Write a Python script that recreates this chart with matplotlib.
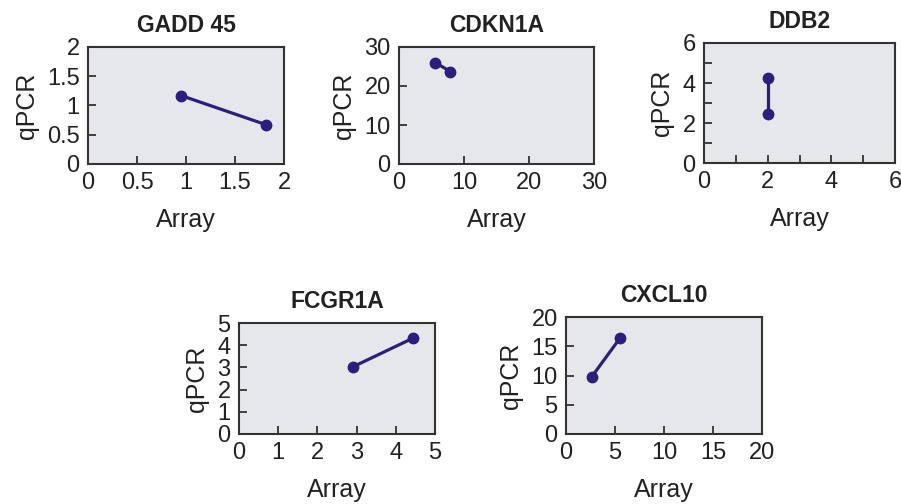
import matplotlib.pyplot as plt
from matplotlib.ticker import MultipleLocator

plt.rcParams["font.family"] = ["Liberation Sans", "DejaVu Sans"]

W, H = 901, 504

# panel data (array value, qPCR value)
genes = ["GADD 45", "CDKN1A", "DDB2", "FCGR1A", "CXCL10"]
gadd45_x = [0.95, 1.82]
gadd45_y = [1.17, 0.67]
cdkn1a_x = [5.6, 7.9]
cdkn1a_y = [26.0, 23.7]
ddb2_x = [2.0, 2.0]
ddb2_y = [4.25, 2.46]
fcgr1a_x = [2.91, 4.43]
fcgr1a_y = [3.03, 4.31]
cxcl10_x = [2.62, 5.54]
cxcl10_y = [9.77, 16.46]

xs = [gadd45_x, cdkn1a_x, ddb2_x, fcgr1a_x, cxcl10_x]
ys = [gadd45_y, cdkn1a_y, ddb2_y, fcgr1a_y, cxcl10_y]
limits = [2, 30, 6, 5, 20]
major = [0.5, 10, 2, 1, 5]
minor = [None, None, 1, None, None]

# axes boxes in pixels: left, top, right, bottom
boxes = [
    (88, 47, 284, 164),
    (399, 47, 594, 164),
    (704, 43, 895, 163),
    (239, 323, 435, 434),
    (566, 317, 762, 434),
]

line_color = "#2a1f7c"
face_color = "#e6e7ea"
spine_color = "#333333"

fig = plt.figure(figsize=(W / 100, H / 100), dpi=100)

for i, gene in enumerate(genes):
    l, t, r, b = boxes[i]
    ax = fig.add_axes([l / W, 1 - b / H, (r - l) / W, (b - t) / H])
    ax.set_facecolor(face_color)
    ax.plot(xs[i], ys[i], color=line_color, lw=2.3, marker="o", ms=7.5,
            markerfacecolor=line_color, markeredgecolor=line_color)
    lim = limits[i]
    ax.set_xlim(0, lim)
    ax.set_ylim(0, lim)
    ax.xaxis.set_major_locator(MultipleLocator(major[i]))
    ax.yaxis.set_major_locator(MultipleLocator(major[i]))
    if minor[i]:
        ax.xaxis.set_minor_locator(MultipleLocator(minor[i]))
        ax.yaxis.set_minor_locator(MultipleLocator(minor[i]))
        ax.tick_params(which="minor", direction="in", length=6, width=1.3,
                       color=spine_color)
    ax.xaxis.set_major_formatter(lambda v, p: f"{v:g}")
    ax.yaxis.set_major_formatter(lambda v, p: f"{v:g}")
    ax.tick_params(which="major", direction="in", length=6, width=1.3,
                   color=spine_color, labelsize=17, pad=6,
                   labelcolor="#222222")
    for s in ax.spines.values():
        s.set_color(spine_color)
        s.set_linewidth(1.5)
    ax.set_xlabel("Array", fontsize=18, labelpad=10, color="#222222")
    ax.set_ylabel("qPCR", fontsize=18, labelpad=6, color="#222222")
    ax.set_title(gene, fontsize=16.5, fontweight="bold", pad=11,
                 color="#222222")

fig.savefig("out.png", dpi=100)
